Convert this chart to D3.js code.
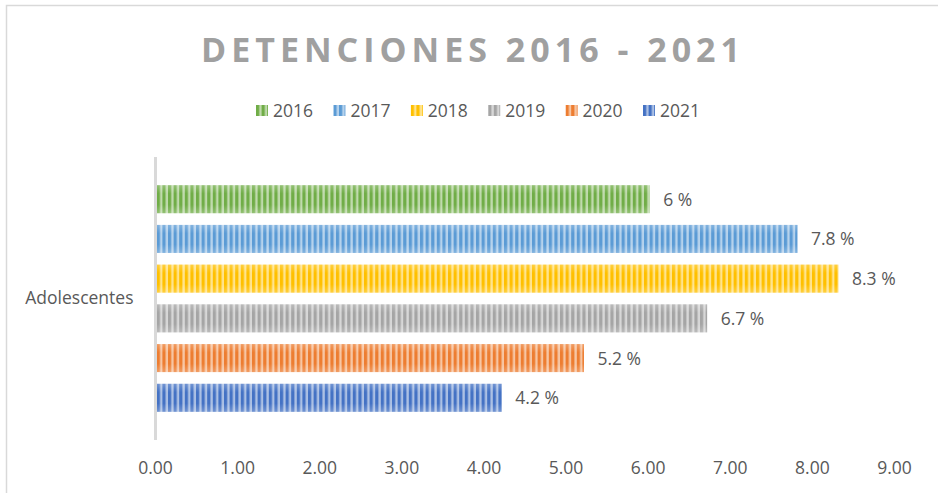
<!DOCTYPE html>
<html><head><meta charset="utf-8">
<script src="https://cdn.jsdelivr.net/npm/d3@7/dist/d3.min.js"></script>
<style>body{margin:0;background:#fff;}svg{display:block;}</style>
</head><body><svg id="c" width="938" height="493"></svg>
<script>
const categories = ["Adolescentes"];
const series = ["2016","2017","2018","2019","2020","2021"];
const values = [6, 7.8, 8.3, 6.7, 5.2, 4.2];
const valueLabels = ["6 %","7.8 %","8.3 %","6.7 %","5.2 %","4.2 %"];
const colors = ["#70ad47","#5b9bd5","#ffc000","#a5a5a5","#ed7d31","#4472c4"];
const xTicks = [0,1,2,3,4,5,6,7,8,9];

const svg = d3.select("#c");
const font = "'Open Sans', 'Noto Sans', sans-serif";
// border
svg.append("rect").attr("x",6.5).attr("y",5.5).attr("width",940).attr("height",500)
  .attr("fill","none").attr("stroke","#d9d9d9").attr("stroke-width",1.5);

const defs = svg.append("defs");
colors.forEach((c,i)=>{
  const light = d3.interpolateRgb(c,"#ffffff")(0.55);
  const p = defs.append("pattern").attr("id","p"+i).attr("patternUnits","userSpaceOnUse")
    .attr("width",5.6).attr("height",10);
  p.append("rect").attr("width",5.6).attr("height",10).attr("fill",light);
  p.append("rect").attr("width",3.2).attr("height",10).attr("fill",c);
  const g = defs.append("linearGradient").attr("id","g"+i).attr("x1",0).attr("x2",0).attr("y1",0).attr("y2",1);
  g.append("stop").attr("offset",0).attr("stop-color","#fff").attr("stop-opacity",0.25);
  g.append("stop").attr("offset",0.3).attr("stop-color","#fff").attr("stop-opacity",0);
  g.append("stop").attr("offset",0.7).attr("stop-color","#fff").attr("stop-opacity",0);
  g.append("stop").attr("offset",1).attr("stop-color","#fff").attr("stop-opacity",0.25);
});

const x = d3.scaleLinear().domain([0,9]).range([157,896]);
const yCat = d3.scaleBand().domain(categories).range([157,440]);
const ySer = d3.scaleBand().domain(series).range([yCat(categories[0]), yCat(categories[0])+yCat.bandwidth()])
  .paddingInner(0.295).paddingOuter(0.71);

// title
svg.append("text").attr("x",473).attr("y",62).attr("text-anchor","middle")
  .attr("font-family",font).attr("font-weight","bold").attr("font-size",34)
  .attr("letter-spacing",5).attr("fill","#a0a0a0").text("DETENCIONES 2016 - 2021");

// legend
series.forEach((s,i)=>{
  const g = svg.append("g").attr("transform",`translate(${256 + i*77.4},105)`);
  g.append("rect").attr("width",12).attr("height",11).attr("fill",`url(#p${i})`);
  g.append("text").attr("x",17).attr("y",12).attr("font-family",font).attr("font-size",17.5)
    .attr("fill","#595959").text(s);
});

// bars
series.forEach((s,i)=>{
  const y0 = ySer(s), h = ySer.bandwidth();
  svg.append("rect").attr("x",x(0)).attr("y",y0).attr("width",x(values[i])-x(0)).attr("height",h)
    .attr("fill",`url(#p${i})`);
  svg.append("rect").attr("x",x(0)).attr("y",y0).attr("width",x(values[i])-x(0)).attr("height",h)
    .attr("fill",`url(#g${i})`);
  svg.append("text").attr("x",x(values[i])+13.5).attr("y",y0+h/2+6.5)
    .attr("font-family",font).attr("font-size",17.5).attr("fill","#595959").text(valueLabels[i]);
});

// axis line
svg.append("line").attr("x1",155.5).attr("x2",155.5).attr("y1",157).attr("y2",440)
  .attr("stroke","#d9d9d9").attr("stroke-width",3);

// category label
svg.append("text").attr("x",133.5).attr("y",304).attr("text-anchor","end")
  .attr("font-family",font).attr("font-size",17.5).attr("fill","#595959").text(categories[0]);

// x tick labels
const xAxis = d3.axisBottom(x).tickValues(xTicks).tickFormat(d3.format(".2f")).tickSize(0);
const ax = svg.append("g").attr("transform","translate(-2,0)").call(xAxis);
ax.select(".domain").remove();
ax.selectAll("text").attr("font-family",font).attr("font-size",17.5).attr("fill","#595959")
  .attr("dy",null).attr("y",474);
</script></body></html>
